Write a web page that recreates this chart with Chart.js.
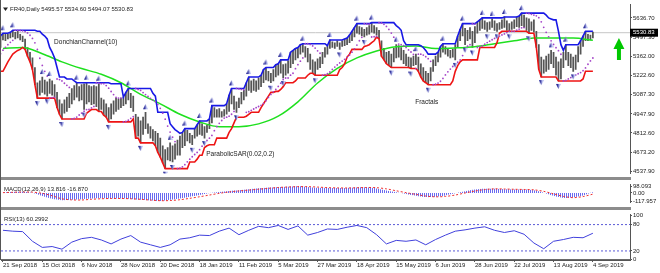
<!DOCTYPE html>
<html>
<head>
<meta charset="utf-8">
<script src="https://cdn.jsdelivr.net/npm/chart.js@4.4.1/dist/chart.umd.min.js"></script>
<style>
  body { margin: 0; background: #fff; }
  #wrap { position: relative; width: 660px; height: 273px; overflow: hidden; background: #fff; }
  #wrap canvas { position: absolute; left: 0; }
  .line { position: absolute; }
</style>
</head>
<body>
<div id="wrap">
  <canvas id="mainChart" width="660" height="178" style="top:0"></canvas>
  <canvas id="macdChart" width="660" height="27" style="top:180px"></canvas>
  <canvas id="rsiChart" width="660" height="63" style="top:210px"></canvas>
  <div class="line" style="left:0;top:177px;width:631px;height:3px;background:#8c8c8c"></div>
  <div class="line" style="left:0;top:207px;width:631px;height:3px;background:#8c8c8c"></div>
  <div class="line" style="left:0;top:259px;width:631px;height:1px;background:#6a6a6a"></div>
  <div class="line" style="left:0;top:0;width:1px;height:260px;background:#555"></div>
</div>
<script>
Chart.defaults.font.family = "'Liberation Sans', Arial, sans-serif";
Chart.defaults.color = '#222';
Chart.defaults.animation = false;

// daily bars, first entry is bar -12 (history before the visible window)
var startBar = -12;
var highs = [
  5281, 5295, 5308, 5322, 5336, 5377, 5404, 5432, 5445, 5459, 5473, 5507,
  5527, 5520, 5520, 5534, 5548, 5534, 5541, 5520, 5507, 5486, 5425, 5391, 5350, 5281, 5172, 5185,
  5213, 5192, 5178, 5199, 5185, 5158, 5103, 5049, 5021, 5049, 5069, 5096, 5131, 5151, 5172, 5144,
  5158, 5165, 5172, 5151, 5144, 5151, 5144, 5165, 5062, 5049, 5021, 4994, 5021, 5042, 5062, 5055,
  5062, 5069, 5103, 5131, 5096, 5076, 4946, 4925, 4898, 4925, 4960, 4878, 4857, 4836, 4823, 4809,
  4775, 4720, 4693, 4707, 4741, 4720, 4734, 4761, 4789, 4816, 4843, 4830, 4809, 4795, 4843, 4871,
  4898, 4878, 4857, 4871, 4912, 5008, 4994, 4980, 4987, 4966, 4980, 5021, 5083, 5131, 5076, 5035,
  5062, 5103, 5117, 5172, 5213, 5185, 5199, 5185, 5206, 5226, 5267, 5281, 5254, 5240, 5267, 5302,
  5308, 5336, 5302, 5308, 5329, 5391, 5404, 5418, 5425, 5445, 5452, 5432, 5418, 5377, 5336, 5322,
  5343, 5356, 5391, 5425, 5438, 5479, 5466, 5459, 5473, 5459, 5473, 5486, 5493, 5514, 5541, 5568,
  5596, 5575, 5568, 5555, 5568, 5582, 5603, 5582, 5568, 5548, 5473, 5418, 5391, 5397, 5377, 5418,
  5445, 5438, 5425, 5404, 5377, 5356, 5350, 5363, 5377, 5356, 5308, 5281, 5254, 5240, 5281, 5336,
  5363, 5391, 5432, 5452, 5432, 5418, 5404, 5411, 5445, 5507, 5555, 5596, 5562, 5548, 5568, 5541,
  5575, 5609, 5623, 5637, 5616, 5603, 5609, 5630, 5616, 5596, 5603, 5623, 5644, 5616, 5596, 5609,
  5623, 5644, 5650, 5671, 5657, 5637, 5630, 5609, 5623, 5541, 5445, 5356, 5336, 5363, 5377, 5404,
  5391, 5356, 5322, 5343, 5391, 5445, 5391, 5377, 5356, 5370, 5432, 5473, 5507, 5541, 5520, 5514, 5534.60
];
var lows = [
  5226, 5247, 5254, 5254, 5288, 5322, 5350, 5377, 5391, 5404, 5411, 5425,
  5479, 5473, 5486, 5493, 5500, 5486, 5493, 5479, 5466, 5411, 5363, 5322, 5267, 5158, 5062, 5083,
  5103, 5090, 5076, 5096, 5083, 5069, 4994, 4946, 4912, 4953, 4966, 4994, 5021, 5049, 5069, 5042,
  5049, 4980, 5021, 5035, 5014, 5021, 5001, 4966, 4980, 4939, 4925, 4891, 4912, 4946, 4966, 4980,
  4994, 5008, 5021, 5049, 4994, 4966, 4775, 4789, 4741, 4802, 4843, 4809, 4775, 4754, 4720, 4672,
  4638, 4597, 4556, 4618, 4611, 4604, 4624, 4652, 4652, 4707, 4720, 4754, 4741, 4727, 4775, 4789,
  4802, 4795, 4775, 4816, 4843, 4884, 4925, 4925, 4925, 4925, 4932, 4946, 4966, 5021, 4980, 4960,
  4994, 5021, 5049, 5076, 5117, 5103, 5117, 5110, 5124, 5144, 5172, 5192, 5185, 5172, 5185, 5213,
  5226, 5240, 5206, 5226, 5240, 5281, 5308, 5336, 5350, 5377, 5391, 5356, 5322, 5267, 5240, 5226,
  5267, 5281, 5308, 5356, 5377, 5418, 5425, 5418, 5432, 5411, 5432, 5438, 5445, 5459, 5473, 5500,
  5527, 5520, 5507, 5500, 5514, 5520, 5534, 5527, 5514, 5486, 5363, 5336, 5308, 5295, 5281, 5322,
  5350, 5356, 5336, 5308, 5295, 5281, 5274, 5295, 5302, 5254, 5213, 5185, 5172, 5158, 5185, 5254,
  5295, 5322, 5356, 5391, 5377, 5363, 5350, 5356, 5336, 5425, 5473, 5507, 5445, 5473, 5486, 5425,
  5459, 5527, 5548, 5562, 5555, 5541, 5555, 5568, 5548, 5541, 5555, 5562, 5568, 5548, 5541, 5555,
  5562, 5575, 5568, 5582, 5568, 5548, 5527, 5548, 5534, 5425, 5267, 5213, 5240, 5254, 5267, 5308,
  5281, 5226, 5185, 5199, 5281, 5336, 5295, 5281, 5254, 5267, 5322, 5377, 5432, 5473, 5473, 5479, 5494.07
];
var lastOhlc = [5495.57, 5534.60, 5494.07, 5530.83];

// moving average, one reading every 8 bars from bar 0
var maStep = 8;
var maValues = [5418, 5425, 5380, 5322, 5274, 5233, 5172, 5089, 5021, 4946, 4891, 4857, 4857, 4877, 4932, 5035,
                5170, 5275, 5350, 5400, 5430, 5435, 5418, 5422, 5431, 5452, 5473, 5493, 5493, 5493, 5476];

// sub windows, one reading every 4 bars from bar 0
var subStep = 4;
var macdMain = [12, 16, 18, 2, -45, -85, -105, -100, -90, -80, -75, -80, -82, -88, -100, -110,
                -117, -100, -80, -55, -30, 0, 15, 30, 40, 55, 68, 80, 85, 92, 98, 88,
                76, 74, 72, 74, 80, 82, 65, 35, 10, -15, -40, -60, -55, -35, -5, 25,
                50, 62, 60, 55, 52, 50, 40, 5, -40, -72, -62, -35, 13.816];
var macdSignal = [5, 10, 14, 12, -5, -40, -85, -100, -102, -92, -84, -80, -80, -84, -92, -103,
                  -112, -110, -98, -78, -55, -30, -5, 15, 30, 42, 55, 68, 80, 87, 92, 92,
                  86, 78, 74, 73, 76, 80, 77, 60, 32, 5, -20, -45, -56, -50, -30, 0,
                  28, 50, 60, 58, 54, 51, 46, 24, -12, -50, -68, -52, -16.870];
var rsiValues = [67, 65, 64, 42, 28, 30, 24, 40, 48, 51, 45, 36, 47, 55, 40, 34,
                 28, 34, 47, 50, 56, 55, 65, 72, 57, 67, 76, 73, 78, 69, 77, 56,
                 62, 70, 69, 74, 78, 73, 57, 36, 44, 42, 45, 34, 46, 56, 65, 68,
                 72, 75, 67, 62, 66, 58, 38, 25, 42, 46, 51, 50, 60.2992];

var labelStep = 16;
var dateLabels = ['21 Sep 2018', '15 Oct 2018', '6 Nov 2018', '28 Nov 2018', '20 Dec 2018', '18 Jan 2019',
                  '11 Feb 2019', '5 Mar 2019', '27 Mar 2019', '18 Apr 2019', '15 May 2019', '6 Jun 2019',
                  '28 Jun 2019', '22 Jul 2019', '13 Aug 2019', '4 Sep 2019'];
var priceTicks = [5636.70, 5497.30, 5362.00, 5222.60, 5087.30, 4947.90, 4812.60, 4673.20, 4537.90];
var macdTicks = [98.093, 0, -117.957];
var rsiTicks = [0, 20, 80, 100];
var rsiLevels = [20, 80];

var xMin = -0.8, xMax = 255.1;
var axisFont = { size: 6 };

// ---- indicators built from the bars ----
function pts(values, step) {
  return values.map(function (v, i) { return { x: i * step, y: v }; });
}

var upperCh = [], lowerCh = [];
for (var k = 9; k < highs.length; k++) {
  var hi = -Infinity, lo = Infinity;
  for (var j = k - 9; j <= k; j++) { hi = Math.max(hi, highs[j]); lo = Math.min(lo, lows[j]); }
  upperCh.push({ x: startBar + k, y: hi });
  lowerCh.push({ x: startBar + k, y: lo });
}

var sarPts = [];
(function () {
  var up = true, af = 0.02, ep = highs[0], sar = lows[0];
  for (var k = 1; k < highs.length; k++) {
    sar = sar + af * (ep - sar);
    var p2 = k > 1 ? k - 2 : k - 1;
    if (up) {
      sar = Math.min(sar, lows[k - 1], lows[p2]);
      if (lows[k] < sar) { up = false; sar = ep; ep = lows[k]; af = 0.02; }
      else if (highs[k] > ep) { ep = highs[k]; af = Math.min(af + 0.02, 0.2); }
    } else {
      sar = Math.max(sar, highs[k - 1], highs[p2]);
      if (highs[k] > sar) { up = true; sar = ep; ep = highs[k]; af = 0.02; }
      else if (lows[k] < ep) { ep = lows[k]; af = Math.min(af + 0.02, 0.2); }
    }
    sarPts.push({ x: startBar + k, y: sar });
  }
})();

var fracUp = [], fracDown = [];
for (var k = 2; k < highs.length - 2; k++) {
  if (highs[k] > highs[k - 1] && highs[k] > highs[k - 2] && highs[k] > highs[k + 1] && highs[k] > highs[k + 2])
    fracUp.push({ x: startBar + k, y: highs[k] });
  if (lows[k] < lows[k - 1] && lows[k] < lows[k - 2] && lows[k] < lows[k + 1] && lows[k] < lows[k + 2])
    fracDown.push({ x: startBar + k, y: lows[k] });
}

function fractalIcon(up) {
  var c = document.createElement('canvas');
  c.width = 5; c.height = 18;
  var g = c.getContext('2d');
  var tip = up ? 1 : 17, base = up ? 6 : 12;
  g.fillStyle = '#b6bcf0';
  g.beginPath(); g.moveTo(2.5, tip); g.lineTo(5, base); g.lineTo(0, base); g.closePath(); g.fill();
  g.fillStyle = '#30309a';
  g.beginPath(); g.moveTo(2.5, tip); g.lineTo(2.5, base); g.lineTo(0, base); g.closePath(); g.fill();
  return c;
}

// vertical hatch used for the MACD histogram
var pc = document.createElement('canvas');
pc.width = 2; pc.height = 1;
var pg = pc.getContext('2d');
pg.fillStyle = '#6a6af0';
pg.fillRect(0, 0, 1, 1);
var histPattern = pg.createPattern(pc, 'repeat');

var chartNotes = [
  { text: 'DonchianChannel(10)', bar: 20.8, price: 5462 },
  { text: 'ParabolicSAR(0.02,0.2)', bar: 82.7, price: 4662 },
  { text: 'Fractals', bar: 167.7, price: 5031 }
];
var arrowNote = { bar: 250.6, top: 5493, bottom: 5336 };

function hiddenX() {
  return { type: 'linear', min: xMin, max: xMax, display: false, offset: false };
}
function rightAxis(min, max, ticks, fmt) {
  return {
    position: 'right', min: min, max: max,
    afterFit: function (s) { s.width = 30; },
    afterBuildTicks: function (s) { s.ticks = ticks.map(function (v) { return { value: v }; }); },
    grid: { drawOnChartArea: false, drawTicks: true, tickLength: 2, color: '#555' },
    border: { display: true, color: '#555' },
    ticks: { autoSkip: false, padding: 1, font: axisFont, color: '#222', callback: fmt }
  };
}
var baseOpts = {
  responsive: false, maintainAspectRatio: false, animation: false,
  layout: { autoPadding: false, padding: { left: 1, right: 0, top: 0, bottom: 0 } },
  plugins: { legend: { display: false }, tooltip: { enabled: false } }
};
function opts(extra) { return Object.assign({}, baseOpts, extra); }

// ---- main price window ----
var mainOverlay = {
  id: 'mainOverlay',
  afterDatasetsDraw: function (chart) {
    var ctx = chart.ctx, xs = chart.scales.x, ys = chart.scales.y, a = chart.chartArea;
    ctx.save();
    ctx.fillStyle = '#222';
    ctx.textBaseline = 'middle';
    ctx.textAlign = 'left';
    ctx.font = "6.5px 'Liberation Sans'";
    chartNotes.forEach(function (n) {
      ctx.fillText(n.text, xs.getPixelForValue(n.bar), ys.getPixelForValue(n.price));
    });
    ctx.font = "6px 'Liberation Sans'";
    ctx.fillText('FR40,Daily ' + lastOhlc.map(function (v) { return v.toFixed(2); }).join(' '), a.left + 9, a.top + 5);
    ctx.beginPath();
    ctx.moveTo(a.left + 2, a.top + 3); ctx.lineTo(a.left + 7, a.top + 3); ctx.lineTo(a.left + 4.5, a.top + 6.5);
    ctx.closePath(); ctx.fill();
    // green up arrow
    var cx = xs.getPixelForValue(arrowNote.bar), t = ys.getPixelForValue(arrowNote.top), b = ys.getPixelForValue(arrowNote.bottom);
    ctx.fillStyle = '#00c800';
    ctx.beginPath();
    ctx.moveTo(cx, t); ctx.lineTo(cx + 5.5, t + 11); ctx.lineTo(cx + 2, t + 11); ctx.lineTo(cx + 2, b);
    ctx.lineTo(cx - 2, b); ctx.lineTo(cx - 2, t + 11); ctx.lineTo(cx - 5.5, t + 11);
    ctx.closePath(); ctx.fill();
    ctx.restore();
  },
  afterDraw: function (chart) {
    var ctx = chart.ctx, ys = chart.scales.y, a = chart.chartArea;
    var y = ys.getPixelForValue(lastOhlc[3]);
    ctx.save();
    ctx.fillStyle = '#000';
    ctx.fillRect(a.right, y - 4, 28, 8);
    ctx.fillStyle = '#fff';
    ctx.font = "6px 'Liberation Sans'";
    ctx.textBaseline = 'middle';
    ctx.fillText(lastOhlc[3].toFixed(2), a.right + 3, y);
    ctx.restore();
  }
};

new Chart('mainChart', {
  type: 'line',
  data: {
    datasets: [
      { type: 'scatter', data: fracUp, pointStyle: fractalIcon(true), showLine: false, order: 1 },
      { type: 'scatter', data: fracDown, pointStyle: fractalIcon(false), showLine: false, order: 1 },
      { type: 'scatter', data: sarPts, showLine: false, pointRadius: 0.9, pointBorderWidth: 0,
        pointBackgroundColor: '#a444c8', order: 2 },
      { data: upperCh, borderColor: '#1818e6', borderWidth: 1.6, pointRadius: 0, tension: 0, order: 3 },
      { data: lowerCh, borderColor: '#ee1414', borderWidth: 1.6, pointRadius: 0, tension: 0, order: 3 },
      { data: pts(maValues, maStep), borderColor: '#1fe01f', borderWidth: 1.5, pointRadius: 0,
        cubicInterpolationMode: 'monotone', order: 4 },
      { type: 'bar', data: highs.map(function (h, k) { return { x: startBar + k, y: [lows[k], h] }; }),
        backgroundColor: '#555555', barThickness: 1.1, order: 6 },
      { data: [{ x: xMin, y: lastOhlc[3] }, { x: xMax, y: lastOhlc[3] }], borderColor: '#c6c6c6',
        borderWidth: 1, pointRadius: 0, order: 7 }
    ]
  },
  options: opts({
    layout: { autoPadding: false, padding: { left: 1, right: 0, top: 0, bottom: 1 } },
    scales: {
      x: hiddenX(),
      y: rightAxis(4521.8, 5732.5, priceTicks, function (v) { return Number(v).toFixed(2); })
    }
  }),
  plugins: [mainOverlay]
});

// ---- MACD window ----
function labelPlugin(id, text) {
  return {
    id: id,
    afterDatasetsDraw: function (chart) {
      var ctx = chart.ctx, a = chart.chartArea;
      ctx.save();
      ctx.fillStyle = '#222';
      ctx.font = "6px 'Liberation Sans'";
      ctx.textBaseline = 'middle';
      ctx.fillText(text, a.left + 3, a.top + 4.5);
      ctx.restore();
    }
  };
}

new Chart('macdChart', {
  type: 'line',
  data: {
    datasets: [
      { data: pts(macdSignal, subStep), borderColor: '#f03030', borderWidth: 1, borderDash: [2, 2],
        pointRadius: 0, tension: 0.3 },
      { data: pts(macdMain, subStep), fill: 'origin', backgroundColor: histPattern, borderWidth: 0,
        pointRadius: 0, tension: 0.3 }
    ]
  },
  options: opts({
    scales: {
      x: hiddenX(),
      y: rightAxis(-137, 122, macdTicks, function (v) { return v === 0 ? '0.00' : Number(v).toFixed(3); })
    }
  }),
  plugins: [labelPlugin('macdLabel', 'MACD(12,26,9) ' + macdMain[macdMain.length - 1].toFixed(3) + ' ' +
    macdSignal[macdSignal.length - 1].toFixed(3))]
});

// ---- RSI window with the date axis ----
var rsiSets = [
  { data: pts(rsiValues, subStep), borderColor: '#4040dc', borderWidth: 1, pointRadius: 0, tension: 0 }
];
rsiLevels.forEach(function (lv) {
  rsiSets.push({ data: [{ x: xMin, y: lv }, { x: xMax, y: lv }], borderColor: '#5a5ad6', borderWidth: 1,
    borderDash: [2, 2], pointRadius: 0 });
});

new Chart('rsiChart', {
  type: 'line',
  data: { datasets: rsiSets },
  options: opts({
    scales: {
      x: {
        type: 'linear', min: xMin, max: xMax, offset: false,
        afterFit: function (s) { s.height = 13; },
        afterBuildTicks: function (s) { s.ticks = dateLabels.map(function (d, i) { return { value: i * labelStep }; }); },
        grid: { drawOnChartArea: false, drawTicks: true, tickLength: 2, color: '#555' },
        border: { display: true, color: '#555' },
        ticks: { autoSkip: false, maxRotation: 0, align: 'start', padding: 0, font: axisFont, color: '#222',
          callback: function (v, i) { return dateLabels[i]; } }
      },
      y: rightAxis(-0.65, 102.75, rsiTicks, function (v) { return String(v); })
    }
  }),
  plugins: [labelPlugin('rsiLabel', 'RSI(13) ' + rsiValues[rsiValues.length - 1].toFixed(4))]
});
</script>
</body>
</html>
